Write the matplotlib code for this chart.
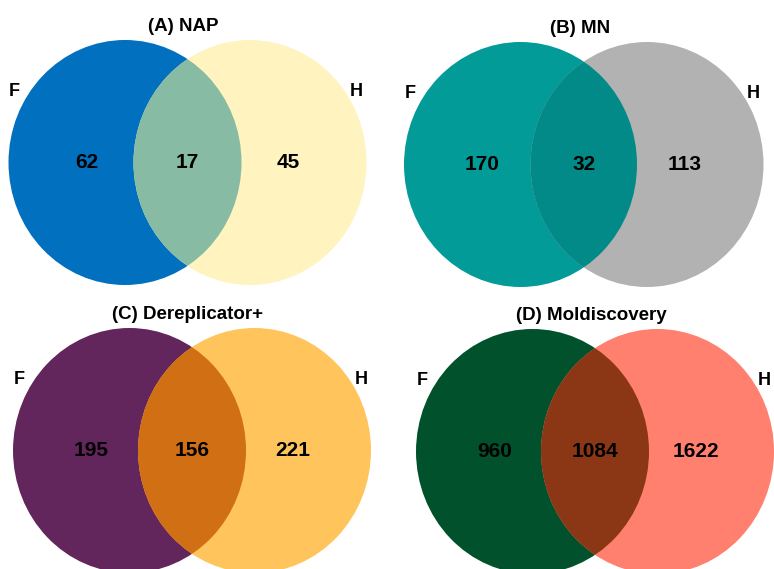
import matplotlib.pyplot as plt
from matplotlib.patches import Ellipse

plt.rcParams['font.family'] = ['Liberation Sans', 'DejaVu Sans']

# one entry per panel: title, F only, shared, H only
titles = ['(A) NAP', '(B) MN', '(C) Dereplicator+', '(D) Moldiscovery']
f_only = [62, 170, 195, 960]
shared = [17, 32, 156, 1084]
h_only = [45, 113, 221, 1622]
set_names = ['F', 'H']

colors_f = ['#0170BF', '#029B98', '#63265C', '#01522C']
colors_h = ['#FFF3BF', '#B2B2B2', '#FFC45C', '#FF806E']
colors_both = ['#88BBA3', '#018A88', '#D06F14', '#8B3716']

# panel layout in pixels: left circle x, right circle x, centre y
left_x = [125, 520.5, 129.5, 532.5]
right_x = [250, 647, 254.5, 657.5]
centre_y = [162.5, 164.5, 450.5, 451.5]
RW, RH = 116.5, 122.5

fig = plt.figure(figsize=(7.74, 5.69), dpi=100)
ax = fig.add_axes([0, 0, 1, 1])
ax.set_xlim(0, 774)
ax.set_ylim(569, 0)
ax.axis('off')

for i in range(4):
    lx, rx, cy = left_x[i], right_x[i], centre_y[i]
    left = Ellipse((lx, cy), 2 * RW, 2 * RH, facecolor=colors_f[i], edgecolor='none')
    right = Ellipse((rx, cy), 2 * RW, 2 * RH, facecolor=colors_h[i], edgecolor='none')
    ax.add_patch(left)
    ax.add_patch(right)
    # overlap: left circle again, clipped to the right one
    both = Ellipse((lx, cy), 2 * RW, 2 * RH, facecolor=colors_both[i], edgecolor='none')
    ax.add_patch(both)
    both.set_clip_path(right)

    mid = (lx + rx) / 2
    ax.text(mid - 4, cy - 136, titles[i], ha='center', va='center',
            fontsize=13.5, fontweight='bold')
    ax.text(lx - 38, cy, str(f_only[i]), ha='center', va='center',
            fontsize=15, fontweight='bold')
    ax.text(mid, cy, str(shared[i]), ha='center', va='center',
            fontsize=15, fontweight='bold')
    ax.text(rx + 38, cy, str(h_only[i]), ha='center', va='center',
            fontsize=15, fontweight='bold')
    ax.text(lx - RW + 6, cy - 71, set_names[0], ha='center', va='center',
            fontsize=13, fontweight='bold')
    ax.text(rx + RW - 10, cy - 71, set_names[1], ha='center', va='center',
            fontsize=13, fontweight='bold')

fig.savefig('out.png', dpi=100)
